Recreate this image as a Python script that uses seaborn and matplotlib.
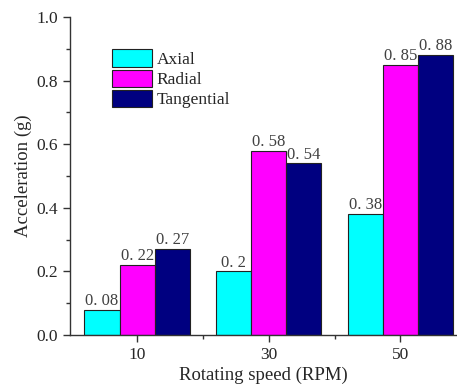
import numpy as np
import pandas as pd
import matplotlib
matplotlib.use("Agg")
import matplotlib.pyplot as plt
from matplotlib.ticker import MultipleLocator, FixedLocator
import seaborn as sns

speeds = ['10', '30', '50']
axial = [0.08, 0.2, 0.38]
radial = [0.22, 0.58, 0.85]
tangential = [0.27, 0.54, 0.88]
series = ['Axial', 'Radial', 'Tangential']
colors = ['#00FFFF', '#FF00FF', '#000080']

df = pd.DataFrame({
    'speed': speeds * 3,
    'value': axial + radial + tangential,
    'dir': [s for s in series for _ in speeds],
})

sns.set_style('ticks')
plt.rcParams['font.family'] = ['Liberation Serif', 'DejaVu Serif']

fig = plt.figure(figsize=(4.57, 3.9), dpi=100)
ax = fig.add_axes([70 / 457, 1 - 335 / 390, 1 - 70 / 457, (335 - 17) / 390])

sns.barplot(data=df, x='speed', y='value', hue='dir', palette=colors,
            width=0.8, edgecolor='#222222', linewidth=0.8, saturation=1,
            ax=ax, legend=True)

for cont, vals in zip(ax.containers, [axial, radial, tangential]):
    labs = [f"{v:g}".replace('.', '. ') for v in vals]
    ax.bar_label(cont, labels=labs, padding=0.5, fontsize=12, color='#404040')

ax.set_xlim(-0.51, 2.43)
ax.set_ylim(0, 1.0)
ax.yaxis.set_major_locator(MultipleLocator(0.2))
ax.yaxis.set_minor_locator(MultipleLocator(0.1))
ax.xaxis.set_minor_locator(FixedLocator([0.5, 1.5]))
ax.yaxis.set_major_formatter(matplotlib.ticker.FormatStrFormatter('%.1f'))
ax.tick_params(axis='both', which='major', direction='out', length=5,
               width=1, labelsize=12.5, color='#333333')
ax.tick_params(axis='both', which='minor', direction='out', length=3,
               width=1, color='#333333')
for s in ['top', 'right']:
    ax.spines[s].set_visible(False)
for s in ['left', 'bottom']:
    ax.spines[s].set_linewidth(1)
    ax.spines[s].set_color('#333333')

ax.set_xlabel('Rotating speed (RPM)', fontsize=13.5, labelpad=3)
ax.set_ylabel('Acceleration (g)', fontsize=13.5, labelpad=3)

leg = ax.legend(loc='upper left', bbox_to_anchor=(0.09, 0.92), frameon=False,
                fontsize=12.5, handlelength=2.3, handleheight=1.15,
                labelspacing=0.1, handletextpad=0.3, borderaxespad=0)
for h in leg.legend_handles:
    h.set_edgecolor('#222222')

fig.savefig('out.png', dpi=100)
